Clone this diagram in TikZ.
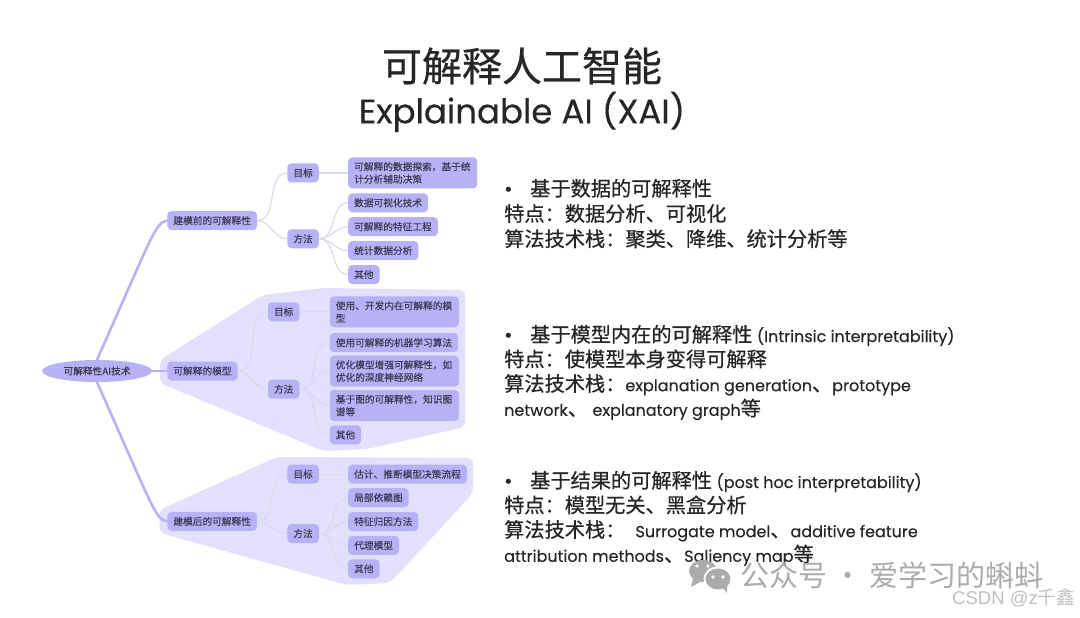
\documentclass[tikz,border=0pt]{standalone}
\usepackage{fontspec}
\setmainfont[FakeBold=0.6]{Noto Sans CJK SC}
\newfontfamily\lat[FakeBold=0.3]{Poppins}
\newfontfamily\arial{Liberation Sans}
\newfontfamily\plainzh{Noto Sans CJK SC}
\newfontfamily\smallzh[FakeBold=0.3]{Noto Sans CJK SC}
\usetikzlibrary{positioning,shapes.geometric}
\definecolor{nodefill}{HTML}{B7B2F6}
\definecolor{hullfill}{HTML}{E2E0FC}
\definecolor{twigcol}{HTML}{DADAEA}
\definecolor{inktext}{HTML}{3C3C55}
\definecolor{bodytext}{HTML}{262626}
\definecolor{markgray}{HTML}{ABABAB}
\newcommand{\en}[1]{{\lat\fontsize{16}{20}\selectfont #1}}
\newcommand{\enb}[1]{{\lat\fontsize{16}{20}\selectfont #1}}
\tikzstyle{topic}=[draw=none,fill=nodefill,rounded corners=4pt,text=inktext,inner xsep=6pt,inner ysep=0pt,minimum height=19pt,font=\smallzh\fontsize{9.7}{12.5}\selectfont]
\tikzstyle{wide}=[topic,text width=117pt,align=left,minimum height=31pt]
\tikzstyle{rootnode}=[ellipse,fill=nodefill,text=inktext,inner sep=0pt,minimum width=110pt,minimum height=22pt,font=\smallzh\fontsize{9.7}{12.5}\selectfont]
\tikzstyle{branch}=[draw=nodefill,line width=2.6pt,line cap=round]
\tikzstyle{twig}=[draw=twigcol,line width=1.2pt]
\tikzstyle{hull}=[fill=hullfill,rounded corners=6pt]
\tikzstyle{txt}=[inner sep=0pt,text=bodytext,text height=15pt,text depth=5pt,font=\fontsize{20.2}{24}\selectfont]
\begin{document}
\begin{tikzpicture}[x=1pt,y=-1pt]
        \useasboundingbox [fill=white] (0,0) rectangle (1080,618);

        \fill [hull] (160,360) -- (263,295) -- (323,288) -- (465,290) -- (465,427) -- (367,449) -- (323,451) -- (160,383) -- cycle;
        \fill [hull] (159,510) -- (277,457) -- (473,458) -- (473,493) -- (390,583) -- (347,585) -- (160,533) -- cycle;

        \node [text=bodytext,font=\fontsize{40}{44}\selectfont] (title) at (522,66) {可解释人工智能};
        \node [below=0pt of title,text=bodytext,font=\lat\fontsize{34}{38}\selectfont] (subtitle) {Explainable AI (XAI)};

        \node [rootnode] (root) at (97,371) {可解释性AI技术};

        \node [topic,right=15pt of root] (b1) {可解释的模型};
        \node [topic,above=131pt of b1.north west,anchor=south west] (a1) {建模前的可解释性};
        \node [topic,below=131pt of b1.south west,anchor=north west] (c1) {建模后的可解释性};

        \node [topic,above right=38pt and 30pt of a1.east] (a2) {目标};
        \node [topic,below right=8.5pt and 30pt of a1.east] (a3) {方法};
        \node [wide,right=29pt of a2] (a4) {可解释的数据探索，基于统\\计分析辅助决策};
        \node [topic,below=4.5pt of a4.south west,anchor=north west] (a5) {数据可视化技术};
        \node [topic,below=4.5pt of a5.south west,anchor=north west] (a6) {可解释的特征工程};
        \node [topic,below=4.5pt of a6.south west,anchor=north west] (a7) {统计数据分析};
        \node [topic,below=4.5pt of a7.south west,anchor=north west] (a8) {其他};

        \node [topic,above right=49.5pt and 30pt of b1.east] (b2) {目标};
        \node [topic,below right=8.5pt and 30pt of b1.east] (b3) {方法};
        \node [wide,right=30pt of b2] (b4) {使用、开发内在可解释的模\\型};
        \node [topic,below=5.5pt of b4.south west,anchor=north west] (b5) {使用可解释的机器学习算法};
        \node [wide,below=3pt of b5.south west,anchor=north west] (b6) {优化模型增强可解释性，如\\优化的深度神经网络};
        \node [wide,below=3pt of b6.south west,anchor=north west] (b7) {基于图的可解释性，知识图\\谱等};
        \node [topic,below=4pt of b7.south west,anchor=north west] (b8) {其他};

        \node [topic,above right=37.5pt and 30pt of c1.east] (c2) {目标};
        \node [topic,below right=2.5pt and 30pt of c1.east] (c3) {方法};
        \node [topic,right=29pt of c2,minimum width=118pt] (c4) {估计、推断模型决策流程};
        \node [topic,below=4pt of c4.south west,anchor=north west] (c5) {局部依赖图};
        \node [topic,below=4.5pt of c5.south west,anchor=north west] (c6) {特征归因方法};
        \node [topic,below=4.5pt of c6.south west,anchor=north west] (c7) {代理模型};
        \node [topic,below=4pt of c7.south west,anchor=north west] (c8) {其他};

        \path [branch] (root.north) .. controls +(-66:140) and +(170:12) .. (a1.west);
        \path [branch] (root.east) -- (b1.west);
        \path [branch] (root.south) .. controls +(66:140) and +(-170:12) .. (c1.west);

        \path [twig] (a1.east) to [out=0,in=180] (a2.west);
        \path [twig] (a1.east) to [out=0,in=180] (a3.west);
        \path [twig] (a2.east) -- (a4.west |- a2.east);
        \path [twig] (a3.east) to [out=0,in=180] (a5.west);
        \path [twig] (a3.east) to [out=0,in=180] (a6.west);
        \path [twig] (a3.east) to [out=0,in=180] (a7.west);
        \path [twig] (a3.east) to [out=0,in=180] (a8.west);

        \path [twig] (b1.east) to [out=0,in=180] (b2.west);
        \path [twig] (b1.east) to [out=0,in=180] (b3.west);
        \path [twig] (b2.east) -- (b4.west |- b2.east);
        \path [twig] (b3.east) to [out=0,in=180] (b5.west);
        \path [twig] (b3.east) to [out=0,in=180] (b6.west);
        \path [twig] (b3.east) to [out=0,in=180] (b7.west);
        \path [twig] (b3.east) to [out=0,in=180] (b8.west);

        \path [twig] (c1.east) to [out=0,in=180] (c2.west);
        \path [twig] (c1.east) to [out=0,in=180] (c3.west);
        \path [twig] (c2.east) -- (c4.west |- c2.east);
        \path [twig] (c3.east) to [out=0,in=180] (c5.west);
        \path [twig] (c3.east) to [out=0,in=180] (c6.west);
        \path [twig] (c3.east) to [out=0,in=180] (c7.west);
        \path [twig] (c3.east) to [out=0,in=180] (c8.west);

        \node [txt,anchor=west] (p1) at (504,191) {\makebox[26pt][l]{{\lat\textbullet}}基于数据的可解释性};
        \node [txt,below=4.8pt of p1.south west,anchor=north west] (p2) {特点：数据分析、可视化};
        \node [txt,below=4.8pt of p2.south west,anchor=north west] (p3) {算法技术栈：聚类、降维、统计分析等};

        \node [txt,anchor=west] (q1) at (504,337) {\makebox[26pt][l]{{\lat\textbullet}}基于模型内在的可解释性 \en{(Intrinsic interpretability)}};
        \node [txt,below=4.2pt of q1.south west,anchor=north west] (q2) {特点：使模型本身变得可解释};
        \node [txt,below=4.2pt of q2.south west,anchor=north west] (q3) {算法技术栈：\enb{explanation generation}、\enb{prototype}};
        \node [txt,below=4.2pt of q3.south west,anchor=north west] (q4) {\enb{network}、 \enb{explanatory graph}等};

        \node [txt,anchor=west] (r1) at (504,483) {\makebox[26pt][l]{{\lat\textbullet}}基于结果的可解释性 \en{(post hoc interpretability)}};
        \node [txt,below=4.2pt of r1.south west,anchor=north west] (r2) {特点：模型无关、黑盒分析};
        \node [txt,below=4.2pt of r2.south west,anchor=north west] (r3) {算法技术栈：\enspace\enb{Surrogate model}、\enb{additive feature}};
        \node [txt,below=4.2pt of r3.south west,anchor=north west] (r4) {\enb{attribution methods}、\enb{Saliency map}等};

        % chat icon of the mark
        \fill [markgray] (703,571) ellipse [x radius=14,y radius=11];
        \fill [markgray] (693,579) -- (691,587) -- (700,582) -- cycle;
        \fill [white] (718,579) ellipse [x radius=14.5,y radius=12.5];
        \fill [markgray] (718,579) ellipse [x radius=12.5,y radius=10.5];
        \fill [markgray] (722,587) -- (727,593) -- (727,584) -- cycle;
        \fill [white] (697,566) circle (1.8) (708,566) circle (1.8) (713,577) circle (1.8) (723,577) circle (1.8);

        \node [anchor=west,inner sep=0pt,text=markgray,font=\plainzh\fontsize{29}{32}\selectfont] (mark) at (740,575) {公众号 · 爱学习的蝌蚪};
        \node [anchor=east,inner sep=0pt,text=black!25,font=\plainzh\fontsize{18.5}{20}\selectfont] (csdn) at (1075,598) {{\arial CSDN @z}千鑫};
      \end{tikzpicture}
\end{document}
